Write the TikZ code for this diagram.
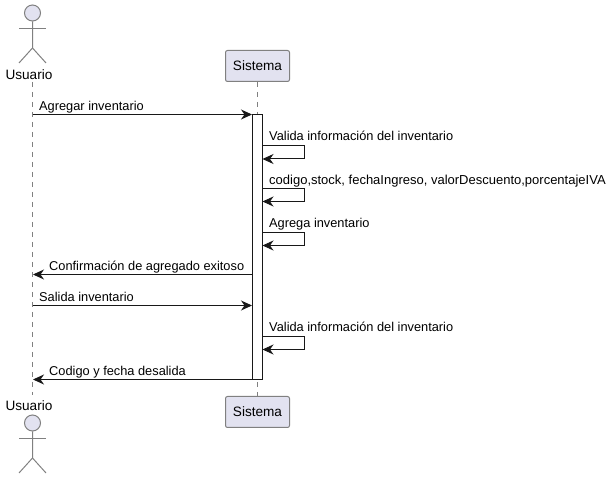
\documentclass[tikz,border=0pt]{standalone}
\usepackage{fontspec}
\setmainfont{Liberation Sans}
\usetikzlibrary{arrows.meta}
\definecolor{actorfill}{HTML}{E2E2F0}
\definecolor{linecol}{HTML}{181818}
\definecolor{lifecol}{HTML}{808080}
\tikzset{
	msg/.style={draw=linecol,line width=1pt,-{Stealth[length=11pt,width=10pt,inset=3.5pt]}},
	msgtext/.style={anchor=base west,inner sep=0pt,font=\fontsize{12.8}{15}\selectfont,text=black},
	lifeline/.style={draw=lifecol,line width=.8pt,dash pattern=on 5pt off 5pt},
	actorline/.style={draw=lifecol,line width=1pt},
	actorhead/.style={circle,draw=lifecol,fill=actorfill,line width=1pt,minimum size=16pt,inner sep=0pt},
	actorname/.style={anchor=base,inner sep=0pt,font=\fontsize{13.6}{16}\selectfont,text=black},
	sysbox/.style={draw=lifecol,fill=actorfill,line width=1pt,rounded corners=2pt,minimum width=64pt,minimum height=31pt,inner sep=0pt,font=\fontsize{13.6}{16}\selectfont,text=black},
	bar/.style={draw=linecol,fill=white,line width=1pt,minimum width=10pt,inner sep=0pt}
}
\begin{document}
\begin{tikzpicture}[x=1pt,y=-1pt,>=latex]
		\useasboundingbox (0,0) rectangle (611,478);
		% actors and boxes
		\node[actorname] (usrtop) at (29,80){Usuario};
		\node[actorname] (usrbot) at (29,411){Usuario};
		\node[sysbox] (systop) at (257.5,66){Sistema};
		\node[sysbox] (sysbot) at (257.5,412){Sistema};
		\node[actorhead] (headtop) at (32.5,13){};
		\node[actorhead] (headbot) at (32.5,423){};
		\draw[actorline] (headtop.south)--(32.5,48)--(19,63);
		\draw[actorline] (32.5,48)--(46,63);
		\draw[actorline] (19,29)--(46,29);
		\draw[actorline] (headbot.south)--(32.5,458)--(19,473);
		\draw[actorline] (32.5,458)--(46,473);
		\draw[actorline] (19,439)--(46,439);
		% lifelines
		\coordinate (usrlife1) at (32.5,82);
		\coordinate (usrlife2) at (32.5,395);
		\draw[lifeline] (usrlife1)--(usrlife2);
		\draw[lifeline] (systop.south)--(sysbot.north);
		% activation
		\node[bar,minimum height=265.5pt] (act) at (257.5,247.25){};
		% messages
		\coordinate (m1a) at (32.5,114.5);
		\coordinate (m1b) at (252,114.5);
		\draw[msg] (m1a)--(m1b);
		\node[msgtext] (t1) at (39,110.5){Agregar inventario};
		\coordinate (s1a) at (262.5,145.5);
		\coordinate (s1b) at (262.5,159);
		\draw[msg] (s1a)--(304.5,145.5)--(304.5,159)--(s1b);
		\node[msgtext] (t2) at (269,140.5){Valida información del inventario};
		\coordinate (s2a) at (262.5,188.5);
		\coordinate (s2b) at (262.5,201.5);
		\draw[msg] (s2a)--(304.5,188.5)--(304.5,201.5)--(s2b);
		\node[msgtext,font=\fontsize{13}{15}\selectfont] (t3) at (269,184.5){codigo,stock, fechaIngreso, valorDescuento,porcentajeIVA};
		\coordinate (s3a) at (262.5,232.5);
		\coordinate (s3b) at (262.5,245.5);
		\draw[msg] (s3a)--(304.5,232.5)--(304.5,245.5)--(s3b);
		\node[msgtext] (t4) at (269,227.5){Agrega inventario};
		\coordinate (m2a) at (252.5,274.5);
		\coordinate (m2b) at (33,274.5);
		\draw[msg] (m2a)--(m2b);
		\node[msgtext] (t5) at (49,270.5){Confirmación de agregado exitoso};
		\coordinate (m3a) at (32.5,305.5);
		\coordinate (m3b) at (252,305.5);
		\draw[msg] (m3a)--(m3b);
		\node[msgtext] (t6) at (39,301.5){Salida inventario};
		\coordinate (s4a) at (262.5,336.5);
		\coordinate (s4b) at (262.5,349.5);
		\draw[msg] (s4a)--(304.5,336.5)--(304.5,349.5)--(s4b);
		\node[msgtext] (t7) at (269,331.5){Valida información del inventario};
		\coordinate (m4a) at (252.5,379.5);
		\coordinate (m4b) at (33,379.5);
		\draw[msg] (m4a)--(m4b);
		\node[msgtext] (t8) at (49,375.5){Codigo y fecha desalida};
		\end{tikzpicture}
\end{document}
